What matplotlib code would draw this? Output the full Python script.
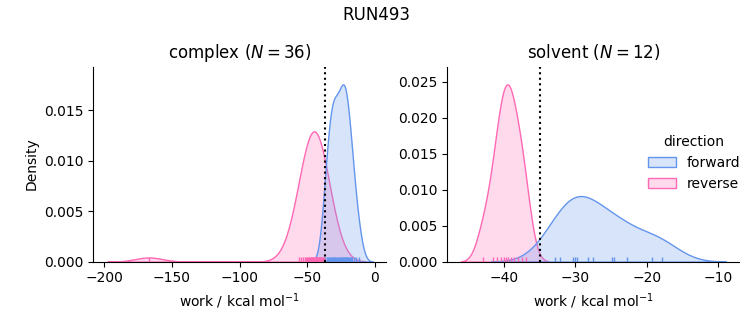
import numpy as np
import pandas as pd
import seaborn as sns
from matplotlib import pyplot as plt

run_name = 'RUN493'

# work values (kcal/mol) per phase and direction
complex_forward = [-37.5, -36.6, -35.7, -34.8, -34.0, -33.2, -32.5, -31.9, -31.4, -30.9,
                   -30.4, -29.9, -29.3, -28.6, -27.8, -27.0, -26.3, -25.6, -25.0, -24.4,
                   -23.9, -23.4, -22.9, -22.4, -21.9, -21.4, -20.9, -20.3, -19.7, -19.0,
                   -18.3, -17.5, -16.6, -15.5, -14.0, -11.5]
complex_reverse = [-167.0, -56.0, -54.5, -53.0, -52.0, -51.0, -50.5, -49.5, -49.0, -48.0,
                   -47.5, -47.0, -46.5, -46.0, -45.5, -45.0, -44.5, -44.0, -43.5, -43.0,
                   -42.5, -42.0, -41.5, -41.0, -40.5, -40.0, -39.5, -39.0, -38.5, -38.0,
                   -37.5, -46.8, -44.2, -42.8, -48.5, -41.2]
solvent_forward = [-32.9, -32.2, -30.3, -30.0, -29.8, -28.3, -27.6, -24.9, -24.6, -22.8,
                   -19.3, -17.8]
solvent_reverse = [-42.9, -41.5, -41.0, -40.5, -40.0, -39.7, -39.4, -39.1, -38.6, -38.0,
                   -37.5, -36.9]

# free energy estimates (dotted lines)
free_energy = {'complex': -36.8, 'solvent': -35.0}

rows = []
for phase, direction, works in [('complex', 'forward', complex_forward),
                                ('complex', 'reverse', complex_reverse),
                                ('solvent', 'forward', solvent_forward),
                                ('solvent', 'reverse', solvent_reverse)]:
    for w in works:
        rows.append({'phase': phase, 'direction': direction, 'work': w})
df = pd.DataFrame(rows)

g = sns.displot(data=df, x='work', hue='direction', col='phase', kind='kde',
                fill=True, rug=True, common_norm=True,
                palette={'forward': 'cornflowerblue', 'reverse': 'hotpink'},
                facet_kws=dict(sharex=False, sharey=False))

fig = g.figure
fig.set_size_inches(7.53, 3.25)
fig.subplots_adjust(left=0.124, right=0.982, bottom=0.195, top=0.795, wspace=0.21)

for ax, phase in zip(g.axes.flat, ['complex', 'solvent']):
    n = (df['phase'] == phase).sum() // 2
    ax.set_title(f'{phase} ($N={n}$)')
    ax.axvline(free_energy[phase], color='black', linestyle=':')
    ax.set_xlabel('work / kcal mol$^{-1}$')

g.axes.flat[0].set_xlim(-208, 8)
g.axes.flat[1].set_xlim(-48, -7)
g.axes.flat[0].set_ylabel('Density')

g.legend.set_bbox_to_anchor((1.0, 0.498))
g.legend.set_loc('center right')
fig.suptitle(run_name)

plt.savefig('out.png', dpi=100)
